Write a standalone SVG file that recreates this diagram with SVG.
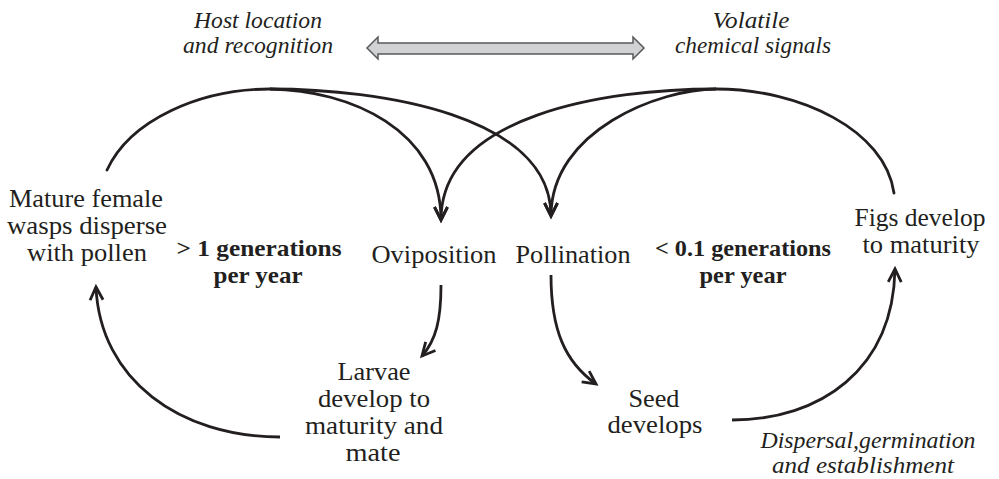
<svg xmlns="http://www.w3.org/2000/svg" width="999" height="479" viewBox="0 0 999 479">
<style>
  text { font-family: "Liberation Serif", "Times New Roman", serif; fill: #231f20; text-anchor: middle; }
  .n { font-size: 25px; }
  .b { font-size: 24px; font-weight: bold; }
  .i { font-size: 23px; font-style: italic; }
  .c { fill: none; stroke: #231f20; stroke-width: 2.8; stroke-linecap: round; }
  .ca { fill: none; stroke: #231f20; stroke-width: 2.8; stroke-linecap: butt; marker-end: url(#ah); }
</style>
<defs>
  <marker id="ah" markerUnits="userSpaceOnUse" viewBox="-16 -9 20 18" refX="0" refY="0" markerWidth="20" markerHeight="18" orient="auto">
    <path d="M-13,-6.5 L0,0 L-13,6.5" fill="none" stroke="#231f20" stroke-width="2.8" stroke-linejoin="miter"/>
  </marker>
</defs>
<rect width="999" height="479" fill="#ffffff"/>

<g id="signal-arrow">
  <polygon points="367,48 378,37 378,43 633,43 633,37 644,48 633,59 633,54 378,54 378,59" fill="#d1d2d4" stroke="#58595b" stroke-width="1.5" stroke-linejoin="miter"/>
</g>

<g id="connectors">
  <path class="c" d="M107,170 C130,120 200,89 270,89"/>
  <path class="ca" d="M270,89 C350,90 441,130 441,220"/>
  <path class="ca" d="M270,89 C380,89 551,115 551,216"/>
  <path class="c" d="M894,193 C885,130 800,89 716,89"/>
  <path class="ca" d="M716,89 C660,89 551,130 551,216"/>
  <path class="ca" d="M716,89 C606,89 441,115 441,220"/>
  <path class="ca" d="M441,285 C441,320 436,340 422,356"/>
  <path class="ca" d="M280,437 C180,437 100,380 96,287"/>
  <path class="ca" d="M551,275 C551,330 565,362 596,384"/>
  <path class="ca" d="M732,420 C820,420 893,370 895,269"/>
</g>

<g id="label-host">
  <text class="i" x="258" y="28" textLength="128" lengthAdjust="spacingAndGlyphs">Host location</text>
  <text class="i" x="258" y="53" textLength="150" lengthAdjust="spacingAndGlyphs">and recognition</text>
</g>
<g id="label-volatile">
  <text class="i" x="751" y="28" textLength="77" lengthAdjust="spacingAndGlyphs">Volatile</text>
  <text class="i" x="753" y="53" textLength="156" lengthAdjust="spacingAndGlyphs">chemical signals</text>
</g>

<g id="node-mature">
  <text class="n" x="86" y="207" textLength="154" lengthAdjust="spacingAndGlyphs">Mature female</text>
  <text class="n" x="87" y="234" textLength="160" lengthAdjust="spacingAndGlyphs">wasps disperse</text>
  <text class="n" x="87" y="261" textLength="120" lengthAdjust="spacingAndGlyphs">with pollen</text>
</g>
<g id="label-wasp-gen">
  <text class="b" x="259" y="256" textLength="165" lengthAdjust="spacingAndGlyphs">&gt; 1 generations</text>
  <text class="b" x="258" y="283" textLength="89" lengthAdjust="spacingAndGlyphs">per year</text>
</g>
<g id="node-oviposition">
  <text class="n" x="434" y="263" textLength="125" lengthAdjust="spacingAndGlyphs">Oviposition</text>
</g>
<g id="node-pollination">
  <text class="n" x="573" y="263" textLength="115" lengthAdjust="spacingAndGlyphs">Pollination</text>
</g>
<g id="label-fig-gen">
  <text class="b" x="743" y="256" textLength="176" lengthAdjust="spacingAndGlyphs">&lt; 0.1 generations</text>
  <text class="b" x="743" y="283" textLength="87" lengthAdjust="spacingAndGlyphs">per year</text>
</g>
<g id="node-figs">
  <text class="n" x="920" y="226" textLength="131" lengthAdjust="spacingAndGlyphs">Figs develop</text>
  <text class="n" x="921" y="253" textLength="117" lengthAdjust="spacingAndGlyphs">to maturity</text>
</g>
<g id="node-larvae">
  <text class="n" x="374" y="380" textLength="73" lengthAdjust="spacingAndGlyphs">Larvae</text>
  <text class="n" x="374" y="407" textLength="112" lengthAdjust="spacingAndGlyphs">develop to</text>
  <text class="n" x="374" y="434" textLength="138" lengthAdjust="spacingAndGlyphs">maturity and</text>
  <text class="n" x="373" y="461" textLength="55" lengthAdjust="spacingAndGlyphs">mate</text>
</g>
<g id="node-seed">
  <text class="n" x="654" y="407" textLength="51" lengthAdjust="spacingAndGlyphs">Seed</text>
  <text class="n" x="655" y="433" textLength="95" lengthAdjust="spacingAndGlyphs">develops</text>
</g>
<g id="label-dispersal">
  <text class="i" x="868" y="448" textLength="215" lengthAdjust="spacingAndGlyphs">Dispersal,germination</text>
  <text class="i" x="863" y="473" textLength="182" lengthAdjust="spacingAndGlyphs">and establishment</text>
</g>
</svg>
